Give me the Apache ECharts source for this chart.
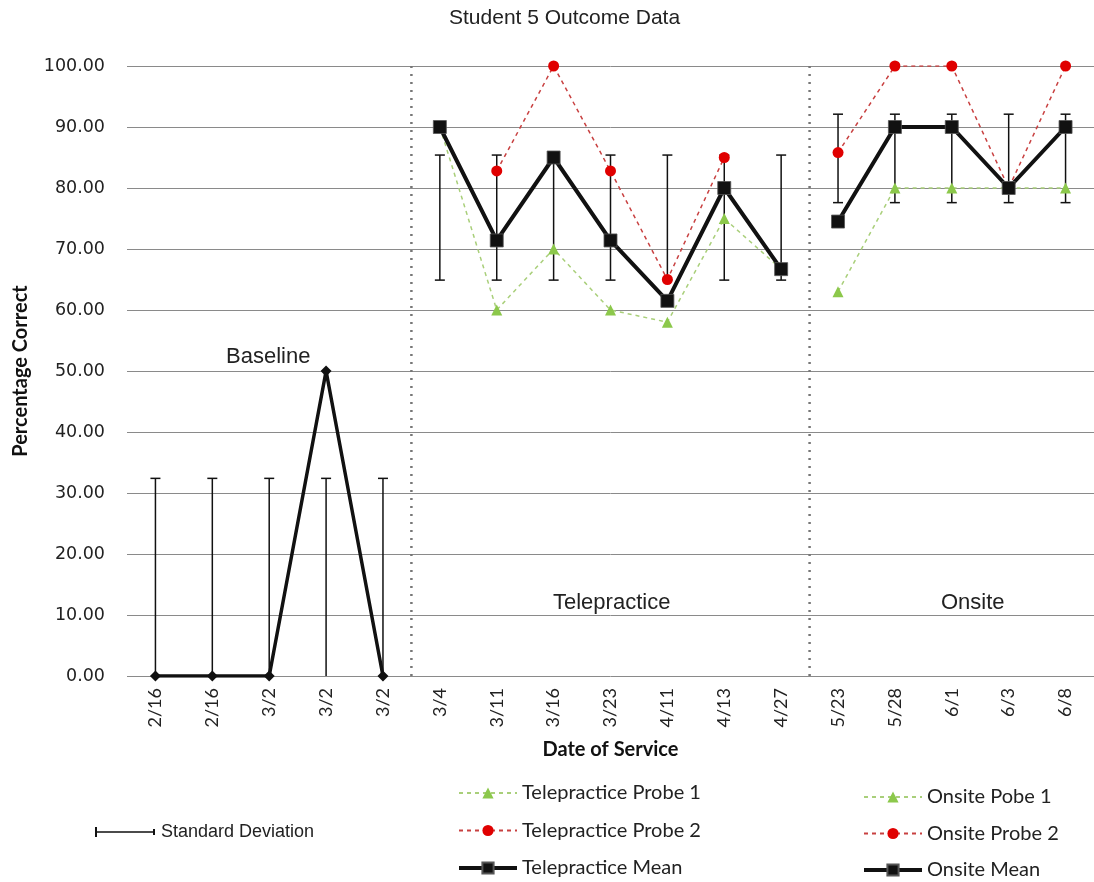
<!DOCTYPE html>
<html><head><meta charset="utf-8">
<script src="https://cdn.jsdelivr.net/npm/echarts@6/dist/echarts.min.js"></script>
<style>html,body{margin:0;padding:0;background:#fff}#c{width:1094px;height:882px}</style>
</head><body><div id="c"></div>
<script>
const categories = ['2/16','2/16','3/2','3/2','3/2','3/4','3/11','3/16','3/23','4/11','4/13','4/27','5/23','5/28','6/1','6/3','6/8'];
const yTicks = [0,10,20,30,40,50,60,70,80,90,100];
const baseline     = [0,0,0,50,0,null,null,null,null,null,null,null,null,null,null,null,null];
const teleProbe1   = [null,null,null,null,null,90,60,70,60,58,75,66.7,null,null,null,null,null];
const teleProbe2   = [null,null,null,null,null,null,82.8,100,82.8,65,85,null,null,null,null,null,null];
const teleMean     = [null,null,null,null,null,90,71.4,85,71.4,61.5,80,66.7,null,null,null,null,null];
const onsiteProbe1 = [null,null,null,null,null,null,null,null,null,null,null,null,63,80,80,80,80];
const onsiteProbe2 = [null,null,null,null,null,null,null,null,null,null,null,null,85.8,100,100,80,100];
const onsiteMean   = [null,null,null,null,null,null,null,null,null,null,null,null,74.5,90,90,80,90];
const sdLow  = [-12.4,-12.4,-12.4,-12.4,-12.4,64.9,64.9,64.9,64.9,64.9,64.9,64.9,77.6,77.6,77.6,77.6,77.6];
const sdHigh = [32.4,32.4,32.4,32.4,32.4,85.4,85.4,85.4,85.4,85.4,85.4,85.4,92.1,92.1,92.1,92.1,92.1];
const phaseStarts = [5, 12];
const phaseNames = ['Baseline','Telepractice','Onsite'];

const chart = echarts.init(document.getElementById('c'), null, {renderer:'canvas'});
const GREEN_LINE = '#a9cf7a', GREEN = '#8cc84b', RED_LINE = '#c84040', RED = '#e00000';
const CAL = 'Lato, "Open Sans", sans-serif';
const ARIAL = '"Liberation Sans", Arial, sans-serif';

function probeSeries(name, data, isGreen) {
  return {
    name, type:'line', data, connectNulls:false, z:4,
    symbol: isGreen ? 'triangle' : 'circle',
    symbolSize: 11,
    lineStyle:{color: isGreen ? GREEN_LINE : RED_LINE, width:1.5, type:[4,4]},
    itemStyle:{color: isGreen ? GREEN : RED},
    emphasis:{disabled:true}
  };
}
function meanSeries(name, data) {
  return {
    name, type:'line', data, connectNulls:false, z:5,
    symbol:'rect', symbolSize:13,
    lineStyle:{color:'#111', width:4},
    itemStyle:{color:'#111', borderColor:'#555', borderWidth:0.8},
    emphasis:{disabled:true}
  };
}

const option = {
  animation:false,
  backgroundColor:'#fff',
  title:{text:'Student 5 Outcome Data', left:449, top:8, padding:0,
    textStyle:{fontFamily:ARIAL, fontSize:21, fontWeight:'normal', color:'#222'}},
  grid:{left:127, right:-6, top:66, bottom:206},
  xAxis:{type:'category', data:categories, boundaryGap:true,
    axisLine:{show:false}, axisTick:{show:false},
    axisLabel:{rotate:90, interval:0, margin:12, fontFamily:CAL, fontSize:18, color:'#222'},
    name:'Date of Service', nameLocation:'middle', nameGap:64,
    nameTextStyle:{fontFamily:CAL, fontSize:20, fontWeight:'bold', color:'#111'}},
  yAxis:{type:'value', min:0, max:100, interval:10,
    axisLine:{show:false}, axisTick:{show:false},
    splitLine:{lineStyle:{color:'#8a8a8a', width:1}},
    axisLabel:{margin:22, fontFamily:'"DejaVu Sans", Verdana, sans-serif', fontSize:17.5, color:'#222',
      formatter:v => v.toFixed(2)},
    name:'Percentage Correct', nameLocation:'middle', nameRotate:90, nameGap:96,
    nameTextStyle:{fontFamily:CAL, fontSize:20, fontWeight:'bold', color:'#111'}},
  legend:[
    {left:95, top:823, padding:0, itemWidth:62, itemHeight:10, selectedMode:false,
      textStyle:{fontFamily:ARIAL, fontSize:18, color:'#222'},
      data:[{name:'Standard Deviation', icon:'path://M0,0h2v10h-2z M0,4.2h60v1.6h-60z M58,2h2v6h-2z'}]},
    {left:457, top:783, padding:0, orient:'vertical', itemGap:17.5, itemWidth:58, itemHeight:14, selectedMode:false,
      textStyle:{fontFamily:CAL, fontSize:20, color:'#222'},
      data:['Telepractice Probe 1','Telepractice Probe 2',{name:'Telepractice Mean', lineStyle:{width:4}}]},
    {left:862, top:787, padding:0, orient:'vertical', itemGap:16.5, itemWidth:58, itemHeight:14, selectedMode:false,
      textStyle:{fontFamily:CAL, fontSize:20, color:'#222'},
      data:['Onsite Pobe 1','Onsite Probe 2',{name:'Onsite Mean', lineStyle:{width:4}}]}
  ],
  graphic:[
    {type:'text', left:226, top:346, style:{text:phaseNames[0], font:'22px "Liberation Sans", Arial', fill:'#222'}},
    {type:'text', left:553, top:592, style:{text:phaseNames[1], font:'22px "Liberation Sans", Arial', fill:'#222'}},
    {type:'text', left:941, top:592, style:{text:phaseNames[2], font:'22px "Liberation Sans", Arial', fill:'#222'}}
  ],
  series:[
    {name:'Dividers', type:'custom', z:1, silent:true,
      data: phaseStarts.map(v => [v, 0]),
      encode:{x:0, y:1},
      renderItem:(params, api) => {
        const bw = api.size([1,0])[0];
        const t = api.coord([api.value(0), 100]);
        const b = api.coord([api.value(0), 0]);
        const x = t[0] - bw/2;
        return {type:'line', shape:{x1:x, y1:t[1], x2:x, y2:b[1]},
          style:{stroke:'#777', lineWidth:2.5, lineDash:[2,6]}};
      }},
    {name:'Standard Deviation', type:'custom', z:3, clip:true, silent:true,
      itemStyle:{color:'#111'},
      data: categories.map((c,i) => [i, sdLow[i], sdHigh[i]]),
      encode:{x:0, y:[1,2]},
      renderItem:(params, api) => {
        const i = api.value(0);
        const lo = api.coord([i, api.value(1)]);
        const hi = api.coord([i, api.value(2)]);
        const w = 5;
        const st = {stroke:'#111', lineWidth:1.5};
        return {type:'group', children:[
          {type:'line', shape:{x1:lo[0], y1:lo[1], x2:hi[0], y2:hi[1]}, style:st},
          {type:'line', shape:{x1:hi[0]-w, y1:hi[1], x2:hi[0]+w, y2:hi[1]}, style:st},
          {type:'line', shape:{x1:lo[0]-w, y1:lo[1], x2:lo[0]+w, y2:lo[1]}, style:st}
        ]};
      }},
    {name:'Baseline', type:'line', data:baseline, z:5, symbol:'diamond', symbolSize:11,
      lineStyle:{color:'#111', width:3.5}, itemStyle:{color:'#111'}, emphasis:{disabled:true}},
    probeSeries('Telepractice Probe 1', teleProbe1, true),
    probeSeries('Telepractice Probe 2', teleProbe2, false),
    meanSeries('Telepractice Mean', teleMean),
    probeSeries('Onsite Pobe 1', onsiteProbe1, true),
    probeSeries('Onsite Probe 2', onsiteProbe2, false),
    meanSeries('Onsite Mean', onsiteMean)
  ]
};
chart.setOption(option);
</script>
</body></html>
